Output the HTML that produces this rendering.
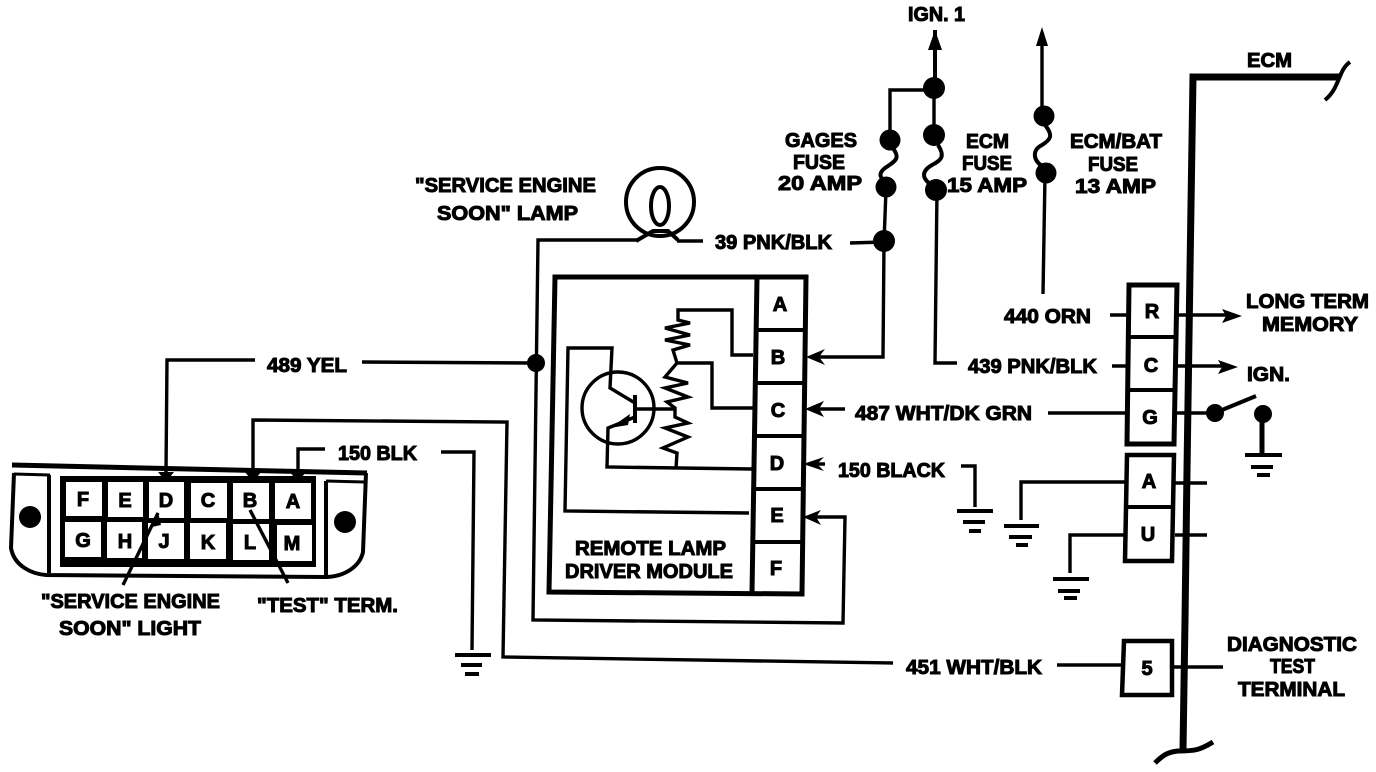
<!DOCTYPE html>
<html><head><meta charset="utf-8"><style>
html,body{margin:0;padding:0;background:#fff}
svg{display:block}
text{font-family:"Liberation Sans",sans-serif;font-weight:700;font-size:20px;fill:#000;stroke:#000;stroke-width:1}
.w{fill:none;stroke:#000;stroke-width:3.4}
.p{text-anchor:middle}
</style></head><body>
<svg width="1376" height="772" viewBox="0 0 1376 772" xmlns="http://www.w3.org/2000/svg">
<rect width="1376" height="772" fill="#fff"/>

<!-- DLC connector -->
<g fill="none" stroke="#000">
<path d="M12,465 L367,473" stroke-width="5"/>
<path d="M14,473 L11,548 C14,566 32,574 46,575 L325,577 C345,577 360,566 363,552 L366,473" stroke-width="4"/>
<path d="M49,475 L49,573" stroke-width="4"/>
<path d="M326,481 L326,575" stroke-width="4"/>
<path d="M326,481 L364,482" stroke-width="3"/>
<path d="M14,474 L50,475" stroke-width="3"/>
</g>
<circle cx="30" cy="517" r="11"/>
<circle cx="345" cy="522" r="11"/>
<rect x="60" y="476" width="256" height="91" fill="#000"/>
<g fill="#fff">
<rect x="66" y="482" width="36" height="34"/><rect x="108" y="482" width="35" height="35"/><rect x="149" y="482" width="35" height="36"/><rect x="191" y="483" width="36" height="35"/><rect x="233" y="483" width="36" height="36"/><rect x="275" y="483" width="36" height="36"/>
<rect x="65" y="522" width="36" height="35"/><rect x="107" y="522" width="35" height="36"/><rect x="148" y="523" width="36" height="36"/><rect x="190" y="523" width="36" height="36"/><rect x="233" y="524" width="36" height="36"/><rect x="277" y="525" width="35" height="36"/>
</g>
<text class="p" x="83" y="506">F</text><text class="p" x="125" y="507">E</text><text class="p" x="166" y="507">D</text><text class="p" x="208" y="507">C</text><text class="p" x="250" y="507">B</text><text class="p" x="293" y="508">A</text>
<text class="p" x="83" y="547">G</text><text class="p" x="125" y="548">H</text><text class="p" x="164" y="548">J</text><text class="p" x="208" y="549">K</text><text class="p" x="250" y="549">L</text><text class="p" x="292" y="550">M</text>
<path class="w" d="M158,513 L123,585"/>
<path d="M158,512 L152,527 L161,525Z"/>
<path class="w" d="M250,510 L288,583"/>

<!-- wires to connector -->
<path class="w" d="M255,360 L167,360 L166,472"/>
<path d="M158,472 L174,472 L166,482Z"/>
<path class="w" d="M362,362 L530,363"/>
<path class="w" d="M253,472 L253,420 L507,422 L503,657 L893,663"/>
<path d="M245,472 L261,472 L253,482Z"/>
<path class="w" d="M325,449 L298,449 L298,473"/>
<path d="M290,472 L306,472 L298,482Z"/>
<path class="w" d="M441,452 L474,452 L472,650"/>
<path class="w" style="stroke-width:4" d="M455,655 H491 M461,665 H482 M465,674 H479"/>

<!-- Module -->
<path d="M555,277 L806,277 L802,594 L549,592 Z" fill="none" stroke="#000" stroke-width="5"/>
<path d="M757,277 L752,593" fill="none" stroke="#000" stroke-width="5"/>
<path d="M757,330 H805 M756,383 H804 M755,436 H804 M754,489 H803 M753,542 H802" fill="none" stroke="#000" stroke-width="4"/>
<text class="p" x="780" y="311">A</text><text class="p" x="778" y="364">B</text><text class="p" x="778" y="417">C</text><text class="p" x="777" y="470">D</text><text class="p" x="777" y="522">E</text><text class="p" x="776" y="575">F</text>
<text x="575" y="555" textLength="151" lengthAdjust="spacingAndGlyphs">REMOTE LAMP</text>
<text x="565" y="578" textLength="168" lengthAdjust="spacingAndGlyphs">DRIVER MODULE</text>

<!-- transistor -->
<circle cx="618" cy="408" r="36" class="w"/>
<path class="w" d="M749,513 L565,511 L568,348 L612,348 L610,388 L635,403"/>
<path d="M635,395 V423" fill="none" stroke="#000" stroke-width="4"/>
<path class="w" d="M635,409 H675"/>
<path class="w" d="M635,417 L608,428 L607,467 L752,469"/>
<path d="M610,428 L630,414 L628,425Z"/>
<!-- resistors -->
<path class="w" d="M753,355 L732,355 L732,310 L678,310 L678,320 L690,323 L665,328 L690,335 L665,340 L690,345 L673,350 L677,363 L665,377 L688,383 L665,388 L688,397 L667,402 L675,408 L675,417 L688,423 L665,428 L688,437 L663,448 L677,453 L676,468"/>
<path class="w" d="M677,363 L712,363 L712,408 L753,408"/>

<!-- lamp -->
<circle cx="660" cy="202" r="34" class="w" style="stroke-width:4"/>
<ellipse cx="660" cy="206" rx="9" ry="19" class="w" style="stroke-width:4"/>
<path class="w" style="stroke-width:4" d="M636,241 L653,231 H668 L678,240"/>
<path class="w" d="M703,241 L677,241 M638,240 L538,240 L533,620 L843,623 L845,517 L812,517"/>
<circle cx="536" cy="363" r="9"/>
<path d="M803,517 L821,510 L816,517 L821,525Z"/>
<text x="415" y="192" textLength="181" lengthAdjust="spacingAndGlyphs">"SERVICE ENGINE</text>
<text x="437" y="220" textLength="141" lengthAdjust="spacingAndGlyphs">SOON" LAMP</text>
<text x="715" y="249" textLength="117" lengthAdjust="spacingAndGlyphs">39 PNK/BLK</text>
<path class="w" d="M850,243 L884,242"/>

<!-- fuses -->
<circle cx="934" cy="88" r="11"/><circle cx="934" cy="135" r="11"/><circle cx="936" cy="190" r="11"/>
<circle cx="890" cy="140" r="10.5"/><circle cx="886" cy="187" r="10.5"/><circle cx="884" cy="241" r="11"/>
<circle cx="1044" cy="116" r="10.5"/><circle cx="1046" cy="173" r="10.5"/>
<path d="M935,80 V30" fill="none" stroke="#000" stroke-width="4"/>
<path d="M935,30 L928,50 L942,50Z"/>
<path class="w" d="M934,88 V135 M924,90 H890 V135"/>
<path class="w" d="M886,190 L884,242 L883,357 L815,357"/>
<path d="M806,357 L825,349 L819,357 L825,365Z"/>
<path class="w" d="M937,190 L935,363 L957,363"/>
<path class="w" d="M1042,110 V45"/>
<path d="M1042,27 L1036,46 L1048,46Z"/>
<path class="w" d="M1045,175 L1043,294"/>
<path class="w" style="stroke-width:4" d="M892,147 C900,157 897,160 888,166 C878,172 879,177 885,182"/>
<path class="w" style="stroke-width:4" d="M938,145 C945,156 942,160 932,165 C920,172 922,180 935,187"/>
<path class="w" style="stroke-width:4" d="M1045,125 C1054,136 1050,140 1042,145 C1032,150 1033,160 1042,166"/>

<text x="908" y="21" textLength="57" lengthAdjust="spacingAndGlyphs">IGN. 1</text>
<text x="785" y="147" textLength="72" lengthAdjust="spacingAndGlyphs">GAGES</text>
<text x="793" y="169" textLength="52" lengthAdjust="spacingAndGlyphs">FUSE</text>
<text x="778" y="190" textLength="84" lengthAdjust="spacingAndGlyphs">20 AMP</text>
<text x="966" y="148" textLength="43" lengthAdjust="spacingAndGlyphs">ECM</text>
<text x="962" y="170" textLength="50" lengthAdjust="spacingAndGlyphs">FUSE</text>
<text x="947" y="192" textLength="80" lengthAdjust="spacingAndGlyphs">15 AMP</text>
<text x="1070" y="148" textLength="92" lengthAdjust="spacingAndGlyphs">ECM/BAT</text>
<text x="1088" y="171" textLength="50" lengthAdjust="spacingAndGlyphs">FUSE</text>
<text x="1075" y="193" textLength="81" lengthAdjust="spacingAndGlyphs">13 AMP</text>

<!-- ECM bar -->
<path d="M1340,77 L1193,77 L1190,270 L1187,470 L1185,620 L1183,750" fill="none" stroke="#000" stroke-width="7"/>
<path d="M1350,62 C1338,70 1340,88 1325,100" fill="none" stroke="#000" stroke-width="4"/>
<path d="M1155,763 C1163,755 1168,752 1178,751 C1195,751 1200,750 1213,742" fill="none" stroke="#000" stroke-width="5"/>
<text x="1247" y="67" textLength="45" lengthAdjust="spacingAndGlyphs">ECM</text>

<!-- ECM connectors -->
<path d="M1129,285 H1177 L1174,444 H1127 Z" fill="#fff" stroke="#000" stroke-width="5"/>
<path d="M1129,337 H1176 M1128,390 H1175" fill="none" stroke="#000" stroke-width="4"/>
<path d="M1127,455 H1174 L1172,561 H1125 Z" fill="#fff" stroke="#000" stroke-width="4.5"/>
<path d="M1127,507 H1173" fill="none" stroke="#000" stroke-width="4"/>
<path d="M1124,641 H1172 V695 H1122 Z" fill="#fff" stroke="#000" stroke-width="4.5"/>
<text class="p" x="1152" y="318">R</text><text class="p" x="1151" y="372">C</text><text class="p" x="1150" y="424">G</text><text class="p" x="1149" y="488">A</text><text class="p" x="1148" y="541">U</text><text class="p" x="1147" y="675">5</text>

<path class="w" d="M1110,315 H1127 M1112,366 H1127 M1048,413 H1126"/>
<path class="w" d="M1177,315 H1232 M1177,366 H1228 M1177,413 H1208 M1175,483 H1207 M1175,535 H1207 M1173,667 H1223"/>
<path d="M1242,316 L1222,309 L1226,316 L1222,323Z"/>
<path d="M1238,367 L1218,360 L1222,367 L1218,374Z"/>
<text x="1004" y="323" textLength="87" lengthAdjust="spacingAndGlyphs">440 ORN</text>
<text x="968" y="373" textLength="129" lengthAdjust="spacingAndGlyphs">439 PNK/BLK</text>
<text x="855" y="420" textLength="177" lengthAdjust="spacingAndGlyphs">487 WHT/DK GRN</text>
<text x="838" y="477" textLength="107" lengthAdjust="spacingAndGlyphs">150 BLACK</text>
<text x="1246" y="308" textLength="123" lengthAdjust="spacingAndGlyphs">LONG TERM</text>
<text x="1262" y="331" textLength="96" lengthAdjust="spacingAndGlyphs">MEMORY</text>
<text x="1247" y="381" textLength="43" lengthAdjust="spacingAndGlyphs">IGN.</text>
<path class="w" d="M845,409 H815 M825,464 H812"/>
<path d="M805,409 L824,401 L819,409 L824,417Z"/>
<path d="M803,464 L824,457 L817,464 L824,471Z"/>

<!-- switch + grounds -->
<circle cx="1215" cy="413" r="9"/><circle cx="1263" cy="414" r="9"/>
<path d="M1222,410 L1256,396" fill="none" stroke="#000" stroke-width="4"/>
<path d="M1262,414 V455" fill="none" stroke="#000" stroke-width="5"/>
<path d="M1245,455 H1282 M1251,467 H1273 M1257,475 H1270" fill="none" stroke="#000" stroke-width="4"/>
<path class="w" d="M961,466 H975 V507"/>
<path d="M957,511 H993 M963,522 H985 M969,531 H981" fill="none" stroke="#000" stroke-width="4"/>
<path class="w" d="M1125,482 H1021 V520"/>
<path d="M1004,526 H1039 M1009,537 H1032 M1016,545 H1028" fill="none" stroke="#000" stroke-width="4"/>
<path class="w" d="M1125,535 H1070 V573"/>
<path d="M1053,579 H1089 M1058,591 H1080 M1064,598 H1077" fill="none" stroke="#000" stroke-width="4"/>
<path class="w" d="M1057,665 H1122"/>

<text x="267" y="372" textLength="80" lengthAdjust="spacingAndGlyphs">489 YEL</text>
<text x="338" y="460" textLength="79" lengthAdjust="spacingAndGlyphs">150 BLK</text>
<text x="41" y="608" textLength="179" lengthAdjust="spacingAndGlyphs">"SERVICE ENGINE</text>
<text x="59" y="635" textLength="142" lengthAdjust="spacingAndGlyphs">SOON" LIGHT</text>
<text x="257" y="612" textLength="141" lengthAdjust="spacingAndGlyphs">"TEST" TERM.</text>
<text x="906" y="674" textLength="136" lengthAdjust="spacingAndGlyphs">451 WHT/BLK</text>
<text x="1227" y="651" textLength="130" lengthAdjust="spacingAndGlyphs">DIAGNOSTIC</text>
<text x="1270" y="673" textLength="45" lengthAdjust="spacingAndGlyphs">TEST</text>
<text x="1238" y="696" textLength="107" lengthAdjust="spacingAndGlyphs">TERMINAL</text>
</svg>
</body></html>
